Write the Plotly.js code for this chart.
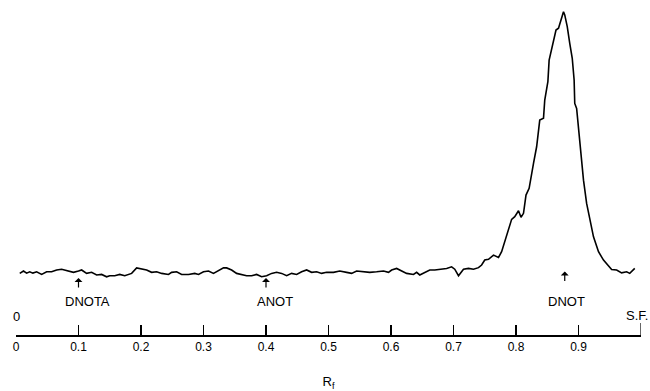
<!DOCTYPE html>
<html>
<head>
<meta charset="utf-8">
<script src="https://cdn.plot.ly/plotly-3.0.1.min.js"></script>
<style>html,body{margin:0;padding:0;background:#fff;}#chart{width:650px;height:391px;}</style>
</head>
<body>
<div id="chart"></div>
<script>
// Rf positions along the scan
const rf = [0.006,0.012,0.017,0.022,0.027,0.033,0.041,0.049,0.057,0.065,0.073,0.084,0.092,0.100,0.105,0.113,0.121,0.129,0.137,0.145,0.150,0.158,0.166,0.174,0.185,0.193,0.201,0.209,0.217,0.225,0.233,0.244,
0.249,0.257,0.265,0.276,0.286,0.292,0.300,0.308,0.316,0.324,0.332,0.337,0.345,0.353,0.361,0.369,0.377,0.385,0.393,0.401,0.409,0.417,0.425,0.433,0.441,0.449,0.457,0.465,0.473,0.481,0.489,
0.497,0.508,0.518,0.529,0.537,0.545,0.556,0.566,0.577,0.588,0.596,0.601,0.609,0.617,0.625,0.636,0.641,0.646,0.654,0.662,0.670,0.678,0.689,0.697,0.702,0.708,0.716,0.724,0.732,
0.740,0.745,0.750,0.756,0.764,0.772,0.777,0.782,0.788,0.793,0.798,0.804,0.808,0.812,0.816,0.821,
0.828,0.833,0.838,0.844,0.846,0.851,0.853,0.857,0.861,0.864,0.868,0.872,0.876,0.878,0.882,0.886,0.890,0.893,0.894,0.897,0.900,0.904,0.908,0.913,0.918,0.924,0.932,0.940,0.953,0.961,0.969,0.977,0.982,0.988,0.990];

// Detector response (relative, peak ~100)
const intensity = [-0.5,0.4,-0.4,0.1,-0.4,0.1,-0.9,0.1,0.1,0.8,1.1,0.4,-0.1,0.4,0.8,-0.5,-0.1,-1.1,-0.9,-1.8,-1.4,-1.4,-0.9,-1.4,-0.5,1.6,1.1,0.8,-0.1,0.1,-0.5,-0.9,
-0.1,0.1,-0.9,-0.9,-0.5,-0.9,0.1,0.4,-0.5,0.4,1.6,1.6,0.8,-0.5,-0.9,-1.4,-1.4,-0.9,-1.8,-1.4,-0.5,-0.1,-0.5,-1.4,-0.5,-0.9,0.1,0.8,-0.1,0.1,-0.5,
-0.1,-0.1,0.4,-0.1,-0.5,0.4,0.1,-0.1,0.1,0.4,-0.1,0.8,1.4,0.4,-0.5,-0.9,-0.1,-1.1,-0.1,0.8,0.8,1.1,1.4,2.0,1.1,-1.4,1.1,1.4,1.1,
1.7,2.7,4.6,4.9,6.5,5.6,7.8,11.6,16.1,20.2,21.2,23.5,21.0,22.5,29.5,32.1,
41.6,48.0,58.2,58.9,65.9,72.9,81.2,85.1,88.9,92.7,93.4,96.6,99.7,98.5,94.0,87.6,81.9,73.6,64.6,62.7,54.4,45.5,35.2,26.3,19.9,13.5,7.8,4.6,1.0,0.8,-0.3,0.1,-0.5,1.0,1.4];

// Axis ticks
const tickValues = [0,0.1,0.2,0.3,0.4,0.5,0.6,0.7,0.8,0.9];
const tickLabels = ["0","0.1","0.2","0.3","0.4","0.5","0.6","0.7","0.8","0.9"];

// Reference spots marked on the scan
const markerNames = ["DNOTA","ANOT","DNOT"];
const markerRf = [0.1,0.4,0.878];
const markerY = [-2.3,-2.3,0.2];

const FONT = "Liberation Sans, Arial, sans-serif";

const annotations = [];
markerNames.forEach((name, i) => {
  annotations.push({x: markerRf[i], y: markerY[i], xref: 'x', yref: 'y', text: '', showarrow: true,
    arrowhead: 1, arrowsize: 1.1, arrowwidth: 1.2, arrowcolor: '#000', ax: 0, ay: 11});
  annotations.push({x: markerRf[i] + (i === 2 ? 0.003 : 0.014), y: -11.3, xref: 'x', yref: 'y', text: name,
    showarrow: false, font: {family: FONT, size: 13, color: '#000'}, xanchor: 'center', yanchor: 'middle'});
});
annotations.push({x: 0, y: -17.2, xref: 'x', yref: 'y', text: '0', showarrow: false,
  font: {family: FONT, size: 13, color: '#000'}, xanchor: 'center', yanchor: 'middle'});
annotations.push({x: 0.993, y: -16.5, xref: 'x', yref: 'y', text: 'S.F.', showarrow: false,
  font: {family: FONT, size: 13, color: '#000'}, xanchor: 'center', yanchor: 'middle'});

const trace = {x: rf, y: intensity, type: 'scatter', mode: 'lines',
  line: {color: '#000', width: 1.6, shape: 'linear'}, hoverinfo: 'skip'};

const layout = {
  width: 650, height: 391,
  margin: {l: 16, r: 9, t: 5, b: 56},
  paper_bgcolor: '#fff', plot_bgcolor: '#fff',
  showlegend: false,
  xaxis: {range: [0, 1], tickvals: tickValues, ticktext: tickLabels,
    showgrid: false, zeroline: false, showline: true, linecolor: '#000', linewidth: 1.5,
    ticks: 'inside', ticklen: 10, tickwidth: 1.2, tickcolor: '#000',
    tickfont: {family: FONT, size: 12, color: '#000'},
    title: {text: 'R<sub>f</sub>', font: {family: FONT, size: 13, color: '#000'}, standoff: 25},
    fixedrange: true},
  yaxis: {range: [-24.1, 102.3], visible: false, fixedrange: true},
  shapes: [{type: 'line', xref: 'x', yref: 'y', x0: 1, x1: 1, y0: -24.1, y1: -19.5,
    line: {color: '#000', width: 1.2}}],
  annotations: annotations
};

Plotly.newPlot('chart', [trace], layout, {staticPlot: true, displayModeBar: false});
</script>
</body>
</html>
